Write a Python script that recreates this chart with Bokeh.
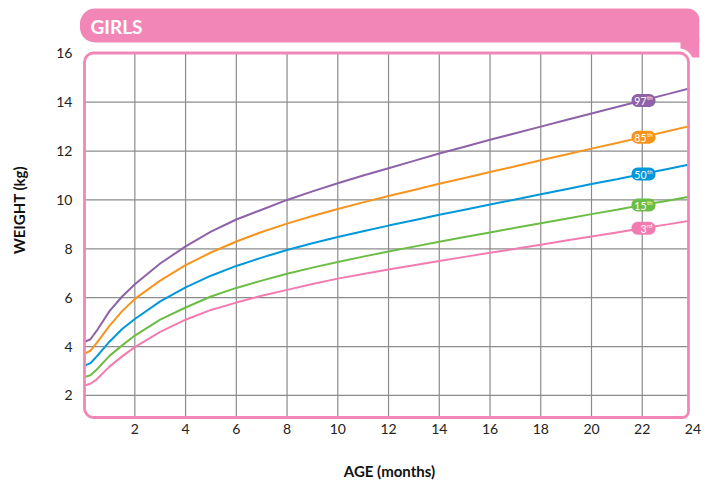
from bokeh.plotting import figure
from bokeh.models import Range1d, FixedTicker, ColumnDataSource
from bokeh.core.properties import value
from bokeh.embed import file_html
from bokeh.resources import INLINE

# ---------------- data ----------------
ages = [0, 0.25, 0.5, 1, 1.5, 2, 3, 4, 5, 6, 7, 8, 9, 10, 11, 12,
        13, 14, 15, 16, 17, 18, 19, 20, 21, 22, 23, 24]
p3 = [2.41, 2.48, 2.66, 3.18, 3.60, 3.98, 4.60, 5.10, 5.50, 5.80, 6.08, 6.32,
      6.56, 6.78, 6.97, 7.15, 7.33, 7.50, 7.67, 7.84, 8.00, 8.17, 8.34, 8.50,
      8.67, 8.84, 9.00, 9.17]
p15 = [2.75, 2.83, 3.06, 3.62, 4.05, 4.45, 5.10, 5.60, 6.05, 6.40, 6.70, 6.98,
       7.23, 7.46, 7.68, 7.89, 8.09, 8.29, 8.48, 8.67, 8.86, 9.05, 9.23, 9.42,
       9.60, 9.79, 9.97, 10.16]
p50 = [3.21, 3.32, 3.60, 4.20, 4.72, 5.13, 5.85, 6.42, 6.90, 7.30, 7.64, 7.95,
       8.23, 8.48, 8.72, 8.95, 9.17, 9.39, 9.60, 9.81, 10.02, 10.23, 10.44, 10.65,
       10.85, 11.06, 11.27, 11.48]
p85 = [3.70, 3.83, 4.15, 4.85, 5.45, 5.95, 6.70, 7.33, 7.85, 8.30, 8.69, 9.03,
       9.34, 9.63, 9.90, 10.16, 10.41, 10.66, 10.90, 11.14, 11.38, 11.62, 11.86, 12.10,
       12.33, 12.57, 12.81, 13.05]
p97 = [4.18, 4.30, 4.65, 5.45, 6.05, 6.55, 7.40, 8.10, 8.70, 9.20, 9.60, 10.00,
       10.35, 10.68, 11.00, 11.30, 11.60, 11.90, 12.18, 12.46, 12.73, 13.00, 13.27, 13.54,
       13.80, 14.07, 14.33, 14.60]

series = [p3, p15, p50, p85, p97]
series_nums = ["3", "15", "50", "85", "97"]
series_sups = ["rd", "th", "th", "th", "th"]
colors = ["#f27cb0", "#6cbd45", "#0098da", "#f7941e", "#8e62a8"]

x_ticks = [2, 4, 6, 8, 10, 12, 14, 16, 18, 20, 22, 24]
y_ticks = [2, 4, 6, 8, 10, 12, 14, 16]
label_age = 22

PINK = "#f287b7"
GRID = "#8c8c8c"


# reference-pixel -> data helpers (for decorations only)
def xd(px):
    return (px - 83.6) / 25.37


def yd(py):
    return 16 - (py - 52.8) / 24.44


p = figure(width=702, height=494, output_backend="svg", toolbar_location=None,
           x_range=Range1d(xd(79), xd(699)),
           y_range=Range1d(yd(419), yd(0)),
           min_border_left=79, min_border_right=3, min_border_top=0,
           min_border_bottom=75)
p.outline_line_color = None
p.xgrid.visible = False
p.ygrid.visible = False

for ax, ticks in ((p.xaxis, x_ticks), (p.yaxis, y_ticks)):
    ax.ticker = FixedTicker(ticks=ticks)
    ax.axis_line_color = None
    ax.major_tick_line_color = None
    ax.minor_tick_line_color = None
    ax.major_tick_out = 0
    ax.major_tick_in = 0
    ax.minor_tick_out = 0
    ax.major_label_text_font = "Lato"
    ax.major_label_text_font_size = "14px"
    ax.major_label_text_color = "#222222"
    ax.axis_label_text_font = "Lato"
    ax.axis_label_text_font_size = "15px"
    ax.axis_label_text_font_style = "bold"
    ax.axis_label_text_color = "#111111"

p.xaxis.axis_label = "AGE (months)"
p.yaxis.axis_label = "WEIGHT (kg)"
p.xaxis.major_label_standoff = 4
p.yaxis.major_label_standoff = 7
p.xaxis.axis_label_standoff = 25
p.yaxis.axis_label_standoff = 25

# frame borders
fl, fr, ft, fb = xd(84), xd(688), yd(52.5), yd(417)

# grid lines
vx = [t for t in x_ticks if t < 24]
p.segment(x0=vx, y0=[fb] * len(vx), x1=vx, y1=[ft] * len(vx),
          line_color=GRID, line_width=1.2)
hy = [t for t in y_ticks if t < 16]
p.segment(x0=[fl] * len(hy), y0=hy, x1=[fr] * len(hy), y1=hy,
          line_color=GRID, line_width=1.2)

# curves
for vals, c in zip(series, colors):
    p.line(ages, vals, line_color=c, line_width=2)

# mask beyond right border
p.quad(left=[xd(689.5)], right=[xd(702)], top=[yd(57)], bottom=[yd(421)],
       fill_color="white", line_color=None)

# header tail and gap
p.quad(left=[xd(680)], right=[xd(699)], top=[yd(38)], bottom=[yd(57)],
       fill_color=PINK, line_color=None)
p.quad(left=[xd(650)], right=[xd(692.5)], top=[yd(48)], bottom=[yd(75)],
       fill_color="white", line_color=None, border_radius=(0, 14, 0, 0))

# header bar
p.quad(left=[xd(79.5)], right=[xd(699)], top=[yd(8)], bottom=[yd(42)],
       fill_color=PINK, line_color=None, border_radius=(15, 12, 0, 15))
p.text(x=[xd(90)], y=[yd(25.5)], text=["GIRLS"], text_color="white",
       text_font=value("Lato"), text_font_style="bold", text_font_size="19px",
       text_baseline="middle", text_align="left")

# frame
p.quad(left=[fl], right=[fr], top=[ft], bottom=[fb], fill_color=None,
       line_color=PINK, line_width=2.8, border_radius=(9, 9, 6, 9))

# percentile pills
idx = ages.index(label_age)
pw = 24 / 25.37
ph = 13 / 24.44
lab_y = [s[idx] for s in series]
src = ColumnDataSource(dict(
    x=[label_age + 0.05] * len(series), y=lab_y,
    left=[label_age + 0.05 - pw / 2] * len(series),
    right=[label_age + 0.05 + pw / 2] * len(series),
    top=[v + ph / 2 for v in lab_y], bottom=[v - ph / 2 for v in lab_y],
    num=series_nums, sup=series_sups, color=colors))
p.quad(left="left", right="right", top="top", bottom="bottom", source=src,
       fill_color="color", line_color=None, border_radius=6)
p.text(x="x", y="y", text="num", source=src, text_color="white",
       text_font=value("Lato"), text_font_size="10.5px", text_align="right",
       text_baseline="middle", x_offset=3, y_offset=0.5)
p.text(x="x", y="y", text="sup", source=src, text_color="white",
       text_font=value("Lato"), text_font_size="6px", text_align="left",
       text_baseline="middle", x_offset=3.5, y_offset=-2.5)

open("out.html", "w").write(file_html(p, INLINE))
